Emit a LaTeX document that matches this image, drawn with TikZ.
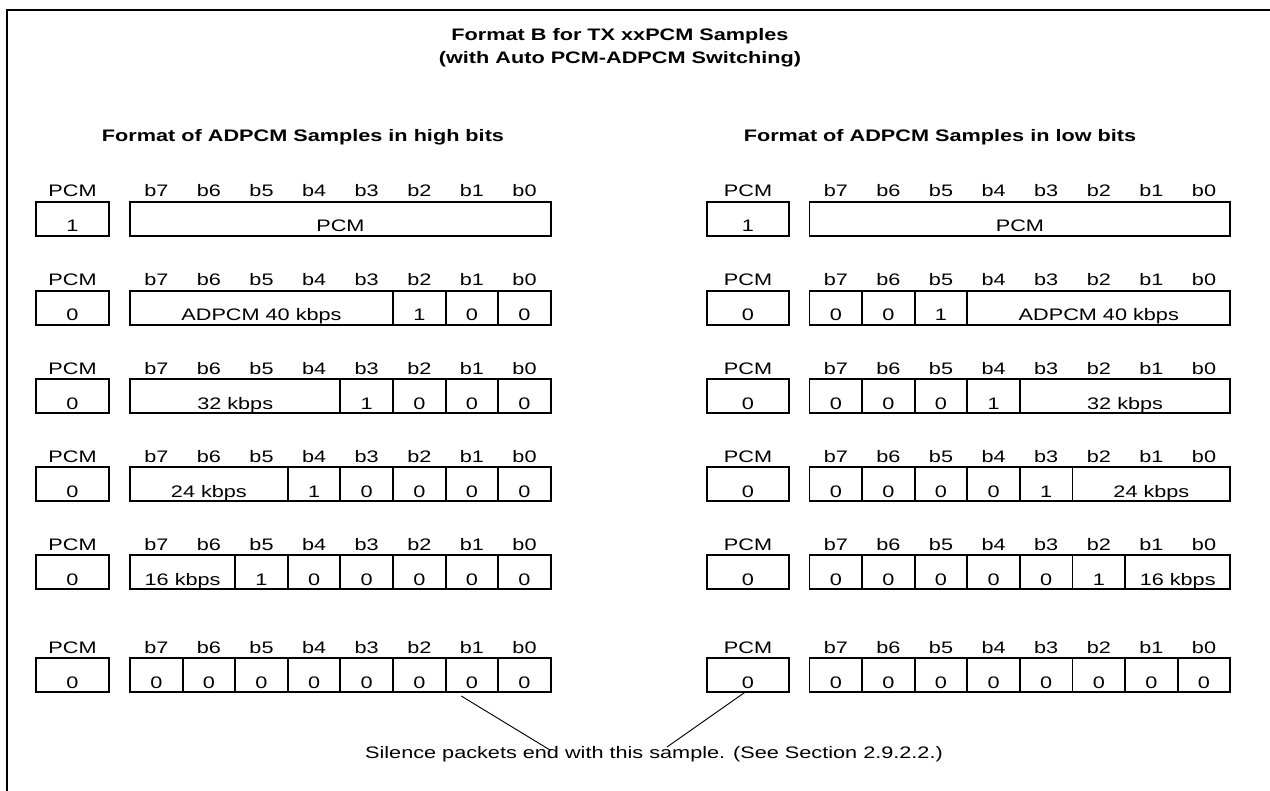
\documentclass[tikz,border=0pt]{standalone}
\usepackage{fontspec}
\setmainfont{Liberation Sans}[FakeStretch=1.3]
\usetikzlibrary{positioning,calc}

\newcommand\cellw{52.6}

\begin{document}
\begin{tikzpicture}[x=0.75pt, y=-0.75pt,
  txt/.style={font=\fontsize{12.5}{14}\selectfont},
  cell/.style={draw, line width=1.4pt, outer sep=0pt, inner xsep=0pt, inner ysep=0pt, text height=22.5pt, text depth=3pt, minimum width=#1*39.45pt, anchor=west, txt},
  cell/.default=1,
  pcmhi/.style={cell, minimum width=54.75pt},
  pcmlo/.style={cell, minimum width=61.5pt},
  hdr/.style={anchor=base, inner sep=0pt, txt},
  head/.style={anchor=base, inner sep=0pt, font=\fontsize{12.5}{14}\selectfont\bfseries}
]
  \useasboundingbox (0,0) rectangle (1270,791);
  % Frame
  \draw[line width=1.5pt] (1270,10) -- (7,10) -- (7,791);
  % Titles
  \node[head] (title1) at (620,41) {Format B for TX xxPCM Samples};
  \node[head] (title2) at (620,64) {(with Auto PCM-ADPCM Switching)};
  \node[head] (hihead) at (303,142) {Format of ADPCM Samples in high bits};
  \node[head] (lohead) at (940,142) {Format of ADPCM Samples in low bits};
  % Bit labels above every row
  \foreach \r/\y in {1/202,2/291,3/379,4/467,5/555,6/658} {
    \node[hdr] (hi\r-pcm-lbl) at (72.5,\y-5) {PCM};
    \node[hdr] (lo\r-pcm-lbl) at (748,\y-5) {PCM};
    \foreach \b [count=\i from 0] in {7,6,5,4,3,2,1,0} {
      \node[hdr] (hi\r-b\b-lbl) at ({130+\cellw*(\i+0.5)},\y-5) {b\b};
      \node[hdr] (lo\r-b\b-lbl) at ({809.5+\cellw*(\i+0.5)},\y-5) {b\b};
    }
  }
  % High bits, row 1
  \node[pcmhi] (hi1pcm) at (36,219) {1};
  \node[cell=8] (hi1data) at (130,219) {PCM};
  % High bits, row 2
  \node[pcmhi] (hi2pcm) at (36,308) {0};
  \node[cell=5] (hi2adpcm) at (130,308) {ADPCM 40 kbps};
  \node[cell, right=0pt of hi2adpcm] (hi2b2) {1};
  \foreach \b/\p in {1/2,0/1} \node[cell, right=0pt of hi2b\p] (hi2b\b) {0};
  % High bits, row 3
  \node[pcmhi] (hi3pcm) at (36,396) {0};
  \node[cell=4] (hi3adpcm) at (130,396) {32 kbps};
  \node[cell, right=0pt of hi3adpcm] (hi3b3) {1};
  \foreach \b/\p in {2/3,1/2,0/1} \node[cell, right=0pt of hi3b\p] (hi3b\b) {0};
  % High bits, row 4
  \node[pcmhi] (hi4pcm) at (36,484) {0};
  \node[cell=3] (hi4adpcm) at (130,484) {24 kbps};
  \node[cell, right=0pt of hi4adpcm] (hi4b4) {1};
  \foreach \b/\p in {3/4,2/3,1/2,0/1} \node[cell, right=0pt of hi4b\p] (hi4b\b) {0};
  % High bits, row 5
  \node[pcmhi] (hi5pcm) at (36,572) {0};
  \node[cell=2] (hi5adpcm) at (130,572) {16 kbps};
  \node[cell, right=0pt of hi5adpcm] (hi5b5) {1};
  \foreach \b/\p in {4/5,3/4,2/3,1/2,0/1} \node[cell, right=0pt of hi5b\p] (hi5b\b) {0};
  % High bits, row 6
  \node[pcmhi] (hi6pcm) at (36,675) {0};
  \node[cell] (hi6b7) at (130,675) {0};
  \foreach \b/\p in {6/7,5/6,4/5,3/4,2/3,1/2,0/1} \node[cell, right=0pt of hi6b\p] (hi6b\b) {0};

  % Low bits, row 1
  \node[pcmlo] (lo1pcm) at (707,219) {1};
  \node[cell=8] (lo1data) at (809.5,219) {PCM};
  % Low bits, row 2
  \node[pcmlo] (lo2pcm) at (707,308) {0};
  \node[cell] (lo2b7) at (809.5,308) {0};
  \node[cell, right=0pt of lo2b7] (lo2b6) {0};
  \node[cell, right=0pt of lo2b6] (lo2b5) {1};
  \node[cell=5, right=0pt of lo2b5] (lo2adpcm) {ADPCM 40 kbps};
  % Low bits, row 3
  \node[pcmlo] (lo3pcm) at (707,396) {0};
  \node[cell] (lo3b7) at (809.5,396) {0};
  \foreach \b/\p in {6/7,5/6} \node[cell, right=0pt of lo3b\p] (lo3b\b) {0};
  \node[cell, right=0pt of lo3b5] (lo3b4) {1};
  \node[cell=4, right=0pt of lo3b4] (lo3adpcm) {32 kbps};
  % Low bits, row 4
  \node[pcmlo] (lo4pcm) at (707,484) {0};
  \node[cell] (lo4b7) at (809.5,484) {0};
  \foreach \b/\p in {6/7,5/6,4/5} \node[cell, right=0pt of lo4b\p] (lo4b\b) {0};
  \node[cell, right=0pt of lo4b4] (lo4b3) {1};
  \node[cell=3, right=0pt of lo4b3] (lo4adpcm) {24 kbps};
  % Low bits, row 5
  \node[pcmlo] (lo5pcm) at (707,572) {0};
  \node[cell] (lo5b7) at (809.5,572) {0};
  \foreach \b/\p in {6/7,5/6,4/5,3/4} \node[cell, right=0pt of lo5b\p] (lo5b\b) {0};
  \node[cell, right=0pt of lo5b3] (lo5b2) {1};
  \node[cell=2, right=0pt of lo5b2] (lo5adpcm) {16 kbps};
  % Low bits, row 6
  \node[pcmlo] (lo6pcm) at (707,675) {0};
  \node[cell] (lo6b7) at (809.5,675) {0};
  \foreach \b/\p in {6/7,5/6,4/5,3/4,2/3,1/2,0/1} \node[cell, right=0pt of lo6b\p] (lo6b\b) {0};

  % Note and pointers
  \node[hdr] (note) at (654,758) {Silence packets end with this sample. (See Section 2.9.2.2.)};
  \coordinate (endL) at ($(note.base)+(-104,-8)$);
  \coordinate (endR) at ($(note.base)+(13,-11)$);
  \draw[line width=0.7pt] ([xshift=-8pt,yshift=-3pt]hi6b1.south) -- (endL);
  \draw[line width=0.7pt] ([xshift=-2pt]lo6pcm.south) -- (endR);
\end{tikzpicture}
\end{document}
